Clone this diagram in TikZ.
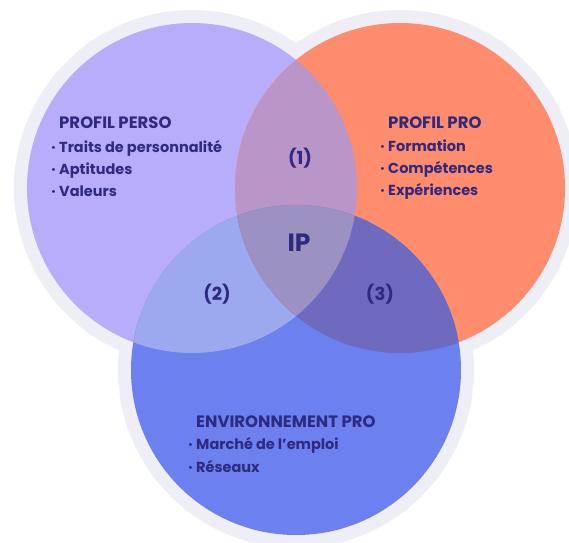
\documentclass[tikz,border=0pt]{standalone}
\usepackage{fontspec}
\setmainfont{Poppins}
\definecolor{halogray}{HTML}{EEEEF6}
\definecolor{lavender}{HTML}{B8ADFB}
\definecolor{coral}{HTML}{FF8C6C}
\definecolor{royal}{HTML}{6D80EF}
\definecolor{mauve}{HTML}{BA95C8}
\definecolor{skyblue}{HTML}{9CA9EF}
\definecolor{dusk}{HTML}{6E6AC0}
\definecolor{core}{HTML}{9C91C0}
\definecolor{ink}{HTML}{2F2A7F}
\newcommand{\itm}{\llap{\textperiodcentered\hspace{3.5pt}}}
\newcommand{\blockhead}[1]{{\fontsize{16.5}{22}\selectfont #1}}

\begin{document}
\begin{tikzpicture}[
  x=1pt, y=1pt,
  blocktext/.style={
    font=\fontsize{14.5}{22}\selectfont\bfseries, text=ink,
    align=left, anchor=north west, inner sep=0pt
  },
  zonelbl/.style={font=\fontsize{18}{20}\selectfont\bfseries, text=ink},
]

% Background
\fill[white] (0,0) rectangle (569,542);
\clip (0,0) rectangle (569,542);

% ---- Circle centres ----
\coordinate (perso) at (192,354);
\coordinate (pro)   at (400,354);
\coordinate (env)   at (296,172);

% ---- Halo ----
\fill[halogray] (perso) circle (178pt);
\fill[halogray] (pro)   circle (178pt);
\fill[halogray] (env)   circle (178pt);

% ---- Circles ----
\fill[lavender] (perso) circle (165pt);
\fill[coral]    (pro)   circle (165pt);
\fill[royal]    (env)   circle (165pt);

% ---- Overlaps ----
\begin{scope}
  \clip (perso) circle (165pt);
  \fill[mauve] (pro) circle (165pt);
\end{scope}
\begin{scope}
  \clip (perso) circle (165pt);
  \fill[skyblue] (env) circle (165pt);
\end{scope}
\begin{scope}
  \clip (pro) circle (165pt);
  \fill[dusk] (env) circle (165pt);
\end{scope}
\begin{scope}
  \clip (perso) circle (165pt);
  \clip (pro) circle (165pt);
  \fill[core] (env) circle (165pt);
\end{scope}

% ---- Texts ----
\node[blocktext] (persotext) at (59,425)
  {\blockhead{PROFIL PERSO}\\[1.5pt]
   \itm Traits de personnalité\\
   \itm Aptitudes\\
   \itm Valeurs};

\node[blocktext] (protext) at (388,425)
  {\blockhead{PROFIL PRO}\\[0.5pt]
   \itm Formation\\
   \itm Compétences\\
   \itm Expériences};

\node[blocktext] (envtext) at (196,126)
  {\blockhead{ENVIRONNEMENT PRO}\\[0pt]
   \itm Marché de l’emploi\\[0.5pt]
   \itm Réseaux};

% ---- Zone labels ----
\node[zonelbl] (zone1) at (300,384) {(1)};
\node[zonelbl] (zone2) at (217,248) {(2)};
\node[zonelbl] (zone3) at (380,248) {(3)};
\node[zonelbl, font=\fontsize{25}{28}\selectfont\bfseries] (ip) at (299,299) {IP};

\end{tikzpicture}
\end{document}
